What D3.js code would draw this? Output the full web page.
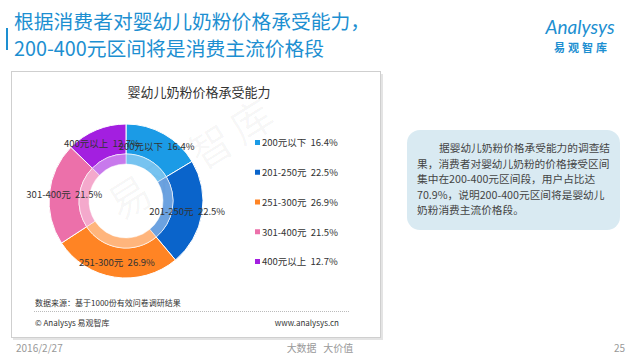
<!DOCTYPE html>
<html><head><meta charset="utf-8">
<script src="https://cdn.jsdelivr.net/npm/d3@7"></script>
<style>
html,body{margin:0;padding:0;background:#fff;}
svg{display:block;font-family:"Noto Sans CJK SC","Noto Sans",sans-serif;}
</style></head>
<body>
<script>
const categories = ["200元以下", "201-250元", "251-300元", "301-400元", "400元以上"];
const values = [16.4, 22.5, 26.9, 21.5, 12.7];
const colors = ["#1b9be6", "#0a64cb", "#ff8424", "#ec70aa", "#a31fe0"];
const titleLines = ["根据消费者对婴幼儿奶粉价格承受能力，", "200-400元区间将是消费主流价格段"];
const chartTitle = "婴幼儿奶粉价格承受能力";
const noteLines = ["据婴幼儿奶粉价格承受能力的调查结", "果，消费者对婴幼儿奶粉的价格接受区间", "集中在200-400元区间段，用户占比达", "70.9%，说明200-400元区间将是婴幼儿", "奶粉消费主流价格段。"];

const W = 640, H = 360;
const svg = d3.select("body").append("svg").attr("width", W).attr("height", H);

// header
svg.append("rect").attr("x", 6).attr("y", 28).attr("width", 2).attr("height", 22).attr("fill", "#1d8fd1");
svg.selectAll("text.title").data(titleLines).join("text")
  .attr("x", 14).attr("y", (d, i) => 29 + i * 27)
  .attr("font-size", 19.8).attr("fill", "#1d8fd1").text(d => d);

// logo
svg.append("text").attr("x", 580).attr("y", 34).attr("text-anchor", "middle")
  .attr("font-size", 19).attr("font-style", "italic").attr("fill", "#1d8fd1")
  .attr("font-family", "Lato, sans-serif").text("Analysys");
svg.append("text").attr("x", 582).attr("y", 52).attr("text-anchor", "middle")
  .attr("font-size", 11).attr("font-weight", "bold").attr("letter-spacing", 3).attr("fill", "#1d8fd1").text("易观智库");

// chart box with shadow
svg.append("rect").attr("x", 13).attr("y", 74).attr("width", 370).attr("height", 266).attr("fill", "#e4e4e4");
svg.append("rect").attr("x", 11.5).attr("y", 71.5).attr("width", 369).attr("height", 266)
  .attr("fill", "#fff").attr("stroke", "#cfcfcf").attr("stroke-width", 1);

svg.append("text").attr("x", 199).attr("y", 97).attr("text-anchor", "middle")
  .attr("font-size", 13).attr("fill", "#333").text(chartTitle);

// watermark
const wm = svg.append("g").attr("transform", "translate(120,222) rotate(-32)");
wm.selectAll("text").data(["易", "观", "智", "库"]).join("text")
  .attr("x", (d, i) => i * 48).attr("y", 0).attr("font-size", 42)
  .attr("fill", "#000").attr("fill-opacity", 0.035).text(d => d);

// donut
const cx = 126, cy = 201;
const pie = d3.pie().sort(null).value(d => d);
const arcs = pie(values);
const outer = d3.arc().innerRadius(47).outerRadius(77);
const band = d3.arc().innerRadius(37).outerRadius(47);
const labelArc = d3.arc().innerRadius(62).outerRadius(62);
const g = svg.append("g").attr("transform", `translate(${cx},${cy})`);

g.selectAll("path.o").data(arcs).join("path").attr("class", "o")
  .attr("d", outer).attr("fill", (d, i) => colors[i]).attr("stroke", "#fff").attr("stroke-width", 1);
g.selectAll("path.b").data(arcs).join("path").attr("class", "b")
  .attr("d", band).attr("fill", (d, i) => colors[i]).attr("fill-opacity", 0.6).attr("stroke", "#fff").attr("stroke-width", 0.5);

g.selectAll("text.l").data(arcs).join("text").attr("class", "l")
  .attr("transform", d => `translate(${labelArc.centroid(d)})`)
  .attr("text-anchor", "middle").attr("dy", "0.35em")
  .attr("font-size", 9.5).attr("fill", "#333").style("white-space", "pre")
  .text((d, i) => `${categories[i]}  ${values[i]}%`);

// legend
const leg = svg.append("g");
const ly = d3.scalePoint().domain(categories).range([143, 262]);
leg.selectAll("rect").data(categories).join("rect")
  .attr("x", 255).attr("y", d => ly(d) - 3).attr("width", 5).attr("height", 5)
  .attr("fill", (d, i) => colors[i]);
leg.selectAll("text").data(categories).join("text")
  .attr("x", 262).attr("y", d => ly(d)).attr("dy", "0.35em")
  .attr("font-size", 9.5).attr("fill", "#333").style("white-space", "pre")
  .text((d, i) => `${d}  ${values[i]}%`);

// source / footer inside box
svg.append("text").attr("x", 35).attr("y", 306).attr("font-size", 8).attr("fill", "#333")
  .text("数据来源：基于1000份有效问卷调研结果");
svg.append("line").attr("x1", 34).attr("x2", 350).attr("y1", 311.5).attr("y2", 311.5)
  .attr("stroke", "#bbb").attr("stroke-dasharray", "1,1");
svg.append("text").attr("x", 35).attr("y", 326).attr("font-size", 8).attr("fill", "#333")
  .text("© Analysys 易观智库");
svg.append("text").attr("x", 339).attr("y", 326).attr("text-anchor", "end").attr("font-size", 8).attr("fill", "#333")
  .text("www.analysys.cn");

// note box
svg.append("rect").attr("x", 407).attr("y", 130).attr("width", 213).attr("height", 100).attr("rx", 13)
  .attr("fill", "#d9eaf2");
svg.selectAll("text.note").data(noteLines).join("text")
  .attr("x", (d, i) => i === 0 ? 439 : 417).attr("y", (d, i) => 152 + i * 15.5)
  .attr("font-size", 10.7).attr("fill", "#444").text(d => d);

// page footer
svg.append("text").attr("x", 16).attr("y", 352).attr("font-size", 10).attr("fill", "#999").text("2016/2/27");
svg.append("text").attr("x", 320).attr("y", 352).attr("text-anchor", "middle").attr("font-size", 10).attr("fill", "#999").style("white-space", "pre").text("大数据   大价值");
svg.append("text").attr("x", 625).attr("y", 352).attr("text-anchor", "end").attr("font-size", 10).attr("fill", "#999").text("25");
</script>
</body></html>
